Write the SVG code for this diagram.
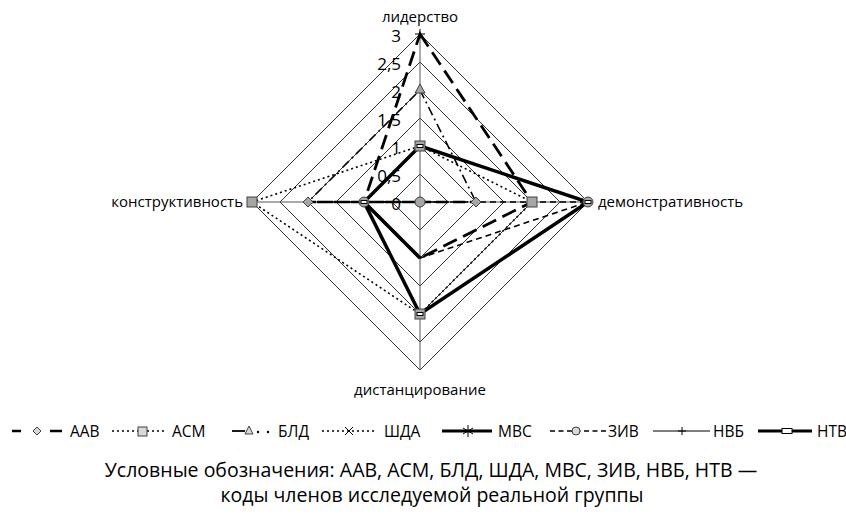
<svg xmlns="http://www.w3.org/2000/svg" width="846" height="516" viewBox="0 0 846 516">
<style>
text{font-family:"Open Sans","DejaVu Sans",sans-serif;fill:#000}
.ax{font-size:15px}
.tk{font-size:17px;text-anchor:end}
.lg{font-size:15.5px}
.cap{font-size:19.5px;text-anchor:middle}
.grid{fill:none;stroke:#000;stroke-width:0.8}
.axis{stroke:#555;stroke-width:1}
.s{fill:none;stroke:#000;stroke-linejoin:miter}
.aab{stroke-width:2.5;stroke-dasharray:11 6}
.asm{stroke-width:1.6;stroke-dasharray:2 3}
.bld{stroke-width:1.6;stroke-dasharray:9 4 2 4}
.mvs{stroke-width:3.5}
.ziv{stroke-width:1.6;stroke-dasharray:6 4}
.nvb{stroke-width:2.8;stroke-dasharray:15 7}
.ntv{stroke-width:3.5}
.mk{fill:#a6a6a6;stroke:#404040;stroke-width:1}
.mkl{fill:#d9d9d9;stroke:#404040;stroke-width:1}
.wr{fill:#fff;stroke:#000;stroke-width:1}
</style>
<g id="grid">
<polygon class="grid" points="420,174 448,202 420,230 392,202"/>
<polygon class="grid" points="420,146 476,202 420,258 364,202"/>
<polygon class="grid" points="420,118 504,202 420,286 336,202"/>
<polygon class="grid" points="420,90 532,202 420,314 308,202"/>
<polygon class="grid" points="420,62 560,202 420,342 280,202"/>
<polygon class="grid" points="420,34 588,202 420,370 252,202"/>
<line class="axis" x1="420" y1="34" x2="420" y2="370"/>
<line class="axis" x1="252" y1="202" x2="588" y2="202"/>
</g>
<g id="ticks">
<text class="tk" x="401" y="42">3</text>
<text class="tk" x="401" y="70">2,5</text>
<text class="tk" x="401" y="98">2</text>
<text class="tk" x="401" y="126">1,5</text>
<text class="tk" x="401" y="154">1</text>
<text class="tk" x="401" y="182">0,5</text>
<text class="tk" x="401" y="210">0</text>
</g>
<g id="axis-labels">
<text class="ax" x="420" y="22" text-anchor="middle">лидерство</text>
<text class="ax" x="598" y="207">демонстративность</text>
<text class="ax" x="243" y="207" text-anchor="end">конструктивность</text>
<text class="ax" x="420" y="395" text-anchor="middle">дистанцирование</text>
</g>
<g id="connectors">
<polygon id="line-AAB" class="s aab" points="420,202 476,202 420,202 308,202"/>
<polygon id="line-BLD" class="s bld" points="420,90 476,202 420,202 308,202"/>
<polygon id="line-ASM" class="s asm" points="420,146 532,202 420,314 252,202"/>
<polygon id="line-ZIV" class="s ziv" points="420,202 588,202 420,258 364,202"/>
<polygon id="line-NVB" class="s nvb" points="420,34 532,202 420,258 364,202"/>
<polyline id="line-MVS" class="s mvs" points="364,202 420,258"/>
<polygon id="line-NTV" class="s ntv" points="420,146 588,202 420,314 364,202"/>
</g>
<g id="node-AAB">
<polygon class="mk" points="476,197 481,202 476,207 471,202"/>
<polygon class="mk" points="308,197 313,202 308,207 303,202"/>
</g>
<g id="node-BLD">
<polygon class="mk" points="420,84 425,93 415,93"/>
</g>
<g id="node-ASM">
<rect class="mk" x="415" y="141" width="10" height="10"/>
<rect class="mk" x="527" y="197" width="10" height="10"/>
<rect class="mk" x="415" y="309" width="10" height="10"/>
<rect class="mk" x="247" y="197" width="10" height="10"/>
</g>
<g id="node-ZIV">
<circle class="mk" cx="420" cy="202" r="5"/>
<circle class="mk" cx="588" cy="202" r="5"/>
<circle class="mk" cx="364" cy="202" r="5"/>
</g>
<g id="node-NVB">
<path d="M415,34H425M420,29V39" stroke="#000" stroke-width="1"/>
</g>
<g id="node-NTV">
<rect class="wr" x="417" y="144.5" width="6" height="3"/>
<rect class="wr" x="585" y="200.5" width="6" height="3"/>
<rect class="wr" x="417" y="312.5" width="6" height="3"/>
<rect class="wr" x="361" y="200.5" width="6" height="3"/>
</g>
<g id="legend">
<g id="legend-AAB">
<line x1="12" y1="431" x2="21" y2="431" stroke="#000" stroke-width="2.5"/>
<polygon class="mkl" points="37,427 41,431 37,435 33,431"/>
<line x1="50" y1="431" x2="62" y2="431" stroke="#000" stroke-width="2.5"/>
<text class="lg" x="70" y="436.5">ААВ</text>
</g>
<g id="legend-ASM">
<line x1="112" y1="431" x2="164" y2="431" stroke="#000" stroke-width="1.6" stroke-dasharray="2 3"/>
<rect class="mkl" x="138" y="427" width="9" height="9"/>
<text class="lg" x="172" y="436.5">АСМ</text>
</g>
<g id="legend-BLD">
<line x1="232" y1="431" x2="245" y2="431" stroke="#000" stroke-width="1.8"/>
<polygon class="mkl" points="249,426 253,434 245,434"/>
<circle cx="258" cy="432" r="1.2"/>
<circle cx="268" cy="432" r="1.2"/>
<text class="lg" x="278" y="436.5">БЛД</text>
</g>
<g id="legend-SDA">
<line x1="322" y1="431" x2="374" y2="431" stroke="#000" stroke-width="1.6" stroke-dasharray="2 3"/>
<path d="M345,427L353,435M353,427L345,435" stroke="#000" stroke-width="1"/>
<text class="lg" x="384" y="436.5">ШДА</text>
</g>
<g id="legend-MVS">
<line x1="442" y1="431" x2="492" y2="431" stroke="#000" stroke-width="3"/>
<path d="M468,425V437M463,428L473,434M473,428L463,434" stroke="#000" stroke-width="1"/>
<text class="lg" x="498" y="436.5">МВС</text>
</g>
<g id="legend-ZIV">
<line x1="550" y1="431" x2="606" y2="431" stroke="#000" stroke-width="1.6" stroke-dasharray="5 3.5"/>
<circle class="mkl" cx="576" cy="431" r="4"/>
<text class="lg" x="608" y="436.5">ЗИВ</text>
</g>
<g id="legend-NVB">
<line x1="653" y1="431" x2="710" y2="431" stroke="#000" stroke-width="1.2"/>
<path d="M682,427V435M678,431H686" stroke="#000" stroke-width="1"/>
<text class="lg" x="713" y="436.5">НВБ</text>
</g>
<g id="legend-NTV">
<line x1="758" y1="431" x2="812" y2="431" stroke="#000" stroke-width="3"/>
<rect class="wr" x="782" y="428.5" width="10" height="5"/>
<text class="lg" x="817" y="436.5">НТВ</text>
</g>
</g>
<g id="caption">
<text class="cap" x="431" y="477">Условные обозначения: ААВ, АСМ, БЛД, ШДА, МВС, ЗИВ, НВБ, НТВ —</text>
<text class="cap" x="432" y="502">коды членов исследуемой реальной группы</text>
</g>
</svg>
